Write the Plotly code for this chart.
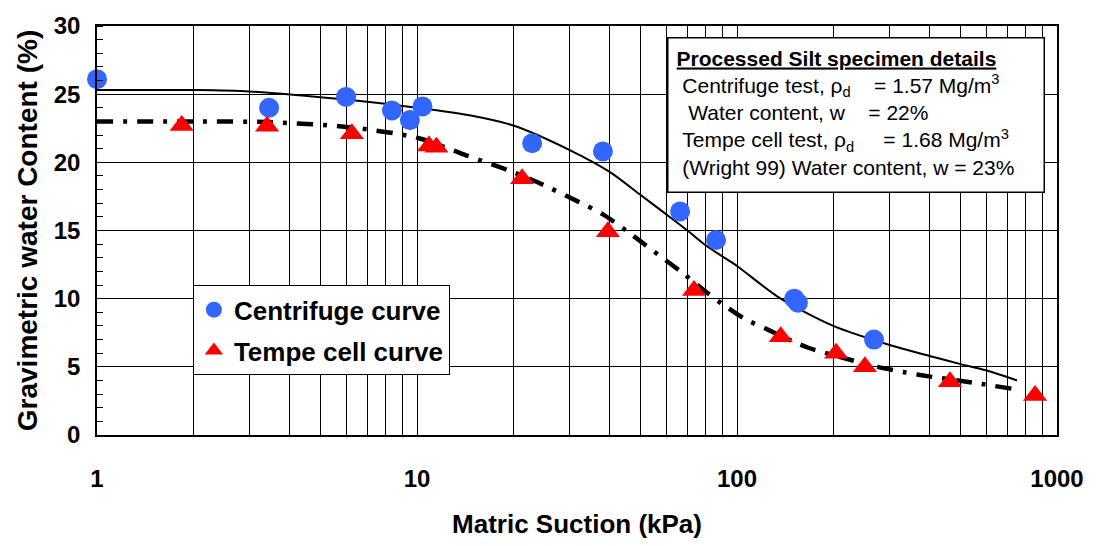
import plotly.graph_objects as go

# Centrifuge data (blue circles)
cent_x = [1.0, 3.45, 6.0, 8.35, 9.5, 10.4, 22.9, 38.1, 66.4, 86.0, 151, 155, 268]
cent_y = [26.1, 24.0, 24.8, 23.8, 23.1, 24.1, 21.4, 20.8, 16.4, 14.3, 10.0, 9.7, 7.0]

# Tempe cell data (red triangles)
tempe_x = [1.84, 3.4, 6.26, 10.9, 11.5, 21.3, 39.5, 73.4, 137, 204, 251, 463, 854]
tempe_y = [22.7, 22.65, 22.1, 21.2, 21.1, 18.8, 14.9, 10.6, 7.2, 6.0, 5.0, 3.9, 2.9]

# Fitted curve for centrifuge (solid)
fitc_x = [1, 2, 3, 6, 10, 15, 20, 30, 40, 50, 60, 70, 80, 90, 100, 135, 200, 300, 400, 500, 600, 750]
fitc_y = [25.3, 25.3, 25.2, 24.6, 24.0, 23.4, 22.7, 20.9, 19.3, 17.6, 16.2, 15.0, 13.9, 13.1, 12.4, 10.1, 8.0, 6.6, 5.8, 5.2, 4.75, 4.0]

# Fitted curve for tempe cell (dash-dot)
fitt_x = [1, 2, 3.4, 6, 10, 14.3, 19.9, 24, 32, 38, 45, 50, 60, 67.5, 80, 90, 106, 123, 142, 167, 204, 275, 334, 398, 560, 720]
fitt_y = [23.0, 23.0, 22.95, 22.6, 21.8, 20.5, 19.3, 18.5, 17.1, 16.2, 15.0, 14.2, 12.8, 11.9, 10.5, 9.6, 8.5, 7.8, 7.1, 6.4, 5.8, 5.0, 4.6, 4.3, 3.8, 3.4]

x_tickvals = [m * 10 ** d for d in range(3) for m in range(1, 10)] + [1000]
x_ticktext = [str(v) if v in (1, 10, 100, 1000) else "" for v in x_tickvals]
y_tickvals = [0, 5, 10, 15, 20, 25, 30]

FONT = "Liberation Sans"

fig = go.Figure()
fig.add_trace(go.Scatter(x=fitc_x, y=fitc_y, mode="lines",
                         line=dict(color="black", width=2, shape="spline", smoothing=0.8),
                         showlegend=False, hoverinfo="skip"))
fig.add_trace(go.Scatter(x=fitt_x, y=fitt_y, mode="lines",
                         line=dict(color="black", width=4.5, shape="spline", smoothing=0.8,
                                   dash="16px,10px,4px,10px"),
                         showlegend=False, hoverinfo="skip"))
fig.add_trace(go.Scatter(x=cent_x, y=cent_y, mode="markers", name="Centrifuge curve", legendgroup="a",
                         marker=dict(symbol="circle", size=20, color="#3366ff"), cliponaxis=False))
fig.add_trace(go.Scatter(x=tempe_x, y=tempe_y, mode="markers", name="Tempe cell curve", legendgroup="b",
                         marker=dict(symbol="triangle-up", size=21, color="#ff0000"), cliponaxis=False))

fig.update_layout(
    width=1096, height=546,
    margin=dict(l=97, r=38, t=22, b=109),
    plot_bgcolor="white", paper_bgcolor="white",
    font=dict(family=FONT, color="black"),
    legend=dict(x=0.0999, y=0.366, xanchor="left", yanchor="top", bgcolor="white",
                bordercolor="black", borderwidth=1,
                font=dict(family=FONT, size=26, color="black", weight="bold"),
                itemsizing="trace", tracegroupgap=4),
    showlegend=True,
)
fig.update_xaxes(type="log", range=[0, 3], tickvals=x_tickvals, ticktext=x_ticktext,
                 showgrid=True, gridcolor="black", gridwidth=1,
                 showline=True, linecolor="black", linewidth=1.5, mirror=True,
                 ticks="", ticklabelstandoff=21,
                 tickfont=dict(family=FONT, size=24, weight="bold"),
                 title=dict(text="Matric Suction (kPa)", font=dict(family=FONT, size=26, weight="bold"), standoff=24),
                 zeroline=False)
fig.update_yaxes(range=[0, 30], tickvals=y_tickvals,
                 showgrid=True, gridcolor="black", gridwidth=1,
                 showline=True, linecolor="black", linewidth=1.5, mirror=True,
                 ticks="", ticklabelstandoff=10,
                 tickfont=dict(family=FONT, size=24, weight="bold"),
                 minor=dict(dtick=1, ticks="inside", ticklen=6, tickcolor="black", showgrid=False),
                 title=dict(text="Gravimetric water Content (%)", font=dict(family=FONT, size=28, weight="bold"), standoff=8),
                 zeroline=False)

box_text = ("<b><u>Processed Silt specimen details</u></b><br>"
            "&nbsp;Centrifuge test, ρ<sub>d</sub>&nbsp;&nbsp;&nbsp; = 1.57 Mg/m<sup>3</sup><br>"
            "&nbsp;&nbsp;Water content, w &nbsp;&nbsp; = 22%<br>"
            "&nbsp;Tempe cell test, ρ<sub>d</sub>&nbsp;&nbsp;&nbsp;&nbsp; = 1.68 Mg/m<sup>3</sup><br>"
            "&nbsp;(Wright 99) Water content, w = 23%")
fig.add_annotation(xref="paper", yref="paper", x=0.594, y=0.9735, xanchor="left", yanchor="top",
                   text=box_text, showarrow=False, align="left", valign="top", width=359, height=137,
                   font=dict(family=FONT, size=21, color="black"),
                   bgcolor="white", bordercolor="black", borderwidth=1.5, borderpad=8)

fig.write_html("out.html")
